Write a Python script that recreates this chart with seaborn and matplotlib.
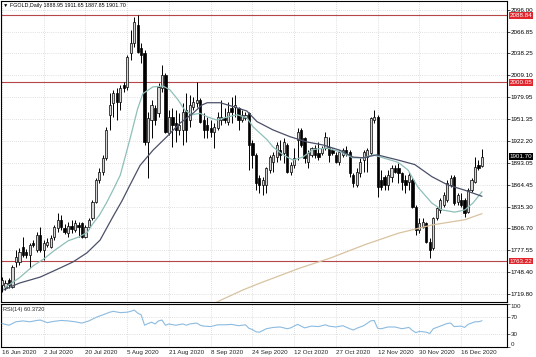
import matplotlib
matplotlib.use("Agg")
import matplotlib.pyplot as plt
import matplotlib.transforms as mtransforms
import numpy as np
import seaborn as sns

# ── Data (daily FGOLD candles) ────────────────────────────────────────────────
opens = [1731.5, 1728.8, 1738.1, 1728.8, 1761.9, 1761.9, 1781.8, 1775.2, 1771.2, 1787.1,
         1777.8, 1797.7, 1777.8, 1784.5, 1781.8, 1795.1, 1807.0, 1817.6, 1807.0, 1800.4,
         1809.6, 1804.3, 1811.0, 1813.6, 1795.1, 1808.3, 1820.2, 1841.4, 1870.6, 1881.2,
         1899.7, 1956.7, 1972.6, 1985.9, 1973.9, 1996.5, 1993.8, 2038.9, 2052.1, 2076.0,
         2045.5, 2038.9, 1920.9, 1950.1, 1966.0, 1959.4, 1992.5, 2009.7, 1932.9, 1954.1,
         1946.1, 1936.8, 1936.8, 1963.3, 1950.1, 1967.3, 1972.6, 1976.6, 1950.1, 1943.5,
         1939.5, 1934.2, 1939.5, 1950.1, 1952.7, 1947.4, 1966.0, 1967.3, 1966.0, 1950.1,
         1952.7, 1959.4, 1919.6, 1903.7, 1873.2, 1864.0, 1864.0, 1883.8, 1894.4, 1901.1,
         1910.3, 1906.4, 1917.0, 1881.2, 1890.5, 1923.6, 1936.8, 1926.2, 1894.4, 1903.7,
         1913.0, 1906.4, 1906.4, 1913.0, 1914.3, 1910.3, 1903.7, 1894.4, 1903.7, 1910.3,
         1907.7, 1877.2, 1864.0, 1879.9, 1897.1, 1901.1, 1906.4, 1950.1, 1954.1, 1870.6,
         1874.6, 1864.0, 1874.6, 1886.5, 1886.5, 1879.9, 1870.6, 1867.9, 1870.6, 1834.8,
         1804.3, 1808.3, 1813.6, 1788.4, 1780.5, 1820.2, 1830.8, 1837.5, 1844.1, 1864.0,
         1874.6, 1841.4, 1844.1, 1844.1, 1828.2, 1857.3, 1867.9, 1890.5, 1888.95]
highs = [1742.1, 1738.1, 1740.7, 1758.0, 1777.8, 1780.5, 1795.1, 1779.2, 1787.1, 1791.1,
         1801.7, 1808.3, 1791.1, 1793.7, 1797.7, 1811.0, 1826.9, 1824.2, 1812.3, 1814.9,
         1817.6, 1817.6, 1814.9, 1814.9, 1811.0, 1820.2, 1844.1, 1873.2, 1886.5, 1903.7,
         1940.8, 1985.9, 1989.8, 1992.5, 1996.5, 2000.4, 2036.2, 2069.3, 2086.6, 2089.2,
         2052.1, 2042.8, 1960.7, 1976.6, 1970.0, 1999.1, 2023.0, 2012.4, 1963.3, 1966.0,
         1963.3, 1959.4, 1972.6, 1985.9, 1983.2, 1980.6, 2000.4, 1979.2, 1959.4, 1954.1,
         1950.1, 1946.1, 1960.7, 1976.6, 1966.0, 1973.9, 1980.6, 1983.2, 1967.3, 1963.3,
         1960.7, 1960.7, 1923.6, 1906.4, 1877.2, 1874.6, 1887.8, 1903.7, 1907.7, 1920.9,
         1923.6, 1926.2, 1919.6, 1894.4, 1913.0, 1939.5, 1939.5, 1927.6, 1910.3, 1914.3,
         1917.0, 1920.9, 1915.7, 1934.2, 1927.6, 1913.0, 1907.7, 1910.3, 1913.0, 1915.7,
         1910.3, 1879.9, 1886.5, 1899.7, 1910.3, 1913.0, 1954.1, 1963.3, 1956.7, 1883.8,
         1877.2, 1883.8, 1890.5, 1890.5, 1893.1, 1881.2, 1877.2, 1881.2, 1873.2, 1837.5,
         1820.2, 1820.2, 1814.9, 1793.7, 1821.6, 1834.8, 1846.7, 1854.7, 1870.6, 1877.2,
         1877.2, 1853.4, 1853.4, 1846.7, 1860.0, 1873.2, 1901.1, 1897.1, 1911.65]
lows = [1722.2, 1724.8, 1727.5, 1727.5, 1755.3, 1758.0, 1768.6, 1767.2, 1754.0, 1781.8,
        1775.2, 1775.2, 1764.6, 1781.8, 1780.5, 1791.1, 1801.7, 1804.3, 1799.0, 1795.1,
        1800.4, 1801.7, 1795.1, 1793.7, 1793.7, 1805.7, 1817.6, 1840.1, 1866.6, 1877.2,
        1897.1, 1936.8, 1954.1, 1950.1, 1963.3, 1987.2, 1989.8, 2029.6, 2046.8, 2038.9,
        2025.6, 1917.0, 1873.2, 1926.2, 1943.5, 1954.1, 1987.2, 1932.9, 1930.2, 1914.3,
        1920.9, 1930.2, 1917.0, 1920.9, 1940.8, 1963.3, 1967.3, 1946.1, 1926.2, 1926.2,
        1927.6, 1913.0, 1936.8, 1943.5, 1946.1, 1943.5, 1946.1, 1954.1, 1936.8, 1947.4,
        1950.1, 1883.8, 1886.5, 1857.3, 1853.4, 1850.7, 1853.4, 1879.9, 1881.2, 1894.4,
        1897.1, 1893.1, 1879.9, 1877.2, 1886.5, 1897.1, 1914.3, 1893.1, 1886.5, 1901.1,
        1899.7, 1897.1, 1903.7, 1910.3, 1894.4, 1903.7, 1893.1, 1890.5, 1901.1, 1902.4,
        1874.6, 1861.3, 1861.3, 1874.6, 1881.2, 1881.2, 1903.7, 1946.1, 1848.1, 1857.3,
        1857.3, 1857.3, 1867.9, 1879.9, 1866.6, 1857.3, 1853.4, 1857.3, 1833.5, 1797.7,
        1800.4, 1807.0, 1787.1, 1767.2, 1777.8, 1817.6, 1826.9, 1834.8, 1841.4, 1861.3,
        1837.5, 1837.5, 1834.8, 1821.6, 1826.9, 1854.7, 1866.6, 1883.8, 1887.85]
closes = [1738.1, 1734.1, 1731.5, 1755.3, 1768.6, 1775.2, 1771.2, 1771.2, 1784.5, 1784.5,
          1797.7, 1777.8, 1787.1, 1788.4, 1793.7, 1808.3, 1817.6, 1808.3, 1801.7, 1809.6,
          1805.7, 1813.6, 1808.3, 1795.1, 1808.3, 1817.6, 1841.4, 1870.6, 1881.2, 1899.7,
          1936.8, 1970.0, 1985.9, 1973.9, 1992.5, 1992.5, 2033.6, 2052.1, 2079.9, 2040.2,
          2036.2, 1920.9, 1952.7, 1970.0, 1950.1, 1993.8, 2009.7, 1934.2, 1954.1, 1943.5,
          1936.8, 1943.5, 1960.7, 1936.8, 1970.0, 1973.9, 1976.6, 1947.4, 1936.8, 1936.8,
          1934.2, 1940.8, 1954.1, 1954.1, 1950.1, 1960.7, 1960.7, 1970.0, 1950.1, 1956.7,
          1956.7, 1917.0, 1903.7, 1866.6, 1864.0, 1870.6, 1886.5, 1901.1, 1903.7, 1917.0,
          1903.7, 1920.9, 1881.2, 1890.5, 1899.7, 1934.2, 1917.0, 1899.7, 1906.4, 1913.0,
          1903.7, 1901.1, 1913.0, 1927.6, 1903.7, 1906.4, 1894.4, 1907.7, 1910.3, 1906.4,
          1879.9, 1866.6, 1881.2, 1894.4, 1907.7, 1910.3, 1952.7, 1954.1, 1861.3, 1861.3,
          1864.0, 1877.2, 1886.5, 1881.2, 1879.9, 1867.9, 1864.0, 1877.2, 1834.8, 1804.3,
          1813.6, 1814.9, 1788.4, 1777.8, 1820.2, 1833.5, 1844.1, 1850.7, 1866.6, 1873.2,
          1840.1, 1850.7, 1837.5, 1826.9, 1857.3, 1870.6, 1887.8, 1886.5, 1901.70]

# moving averages, read at sample bars
fast_ma_x = [0.5, 5, 9, 12, 15, 19, 22, 24.5, 26, 28, 30, 32, 34, 36.8, 39, 40.5, 43.4, 46.3,
             48.3, 50.6, 52.6, 54.6, 56.9, 59.2, 61.8, 64.7, 67.6, 70.4, 72.2, 76.2, 78, 80.8,
             83.7, 86.5, 89.4, 93.4, 97.2, 100.9, 103.8, 106.7, 108.1, 113.9, 116.7, 119.6,
             123.6, 126.5, 130.2, 133.1, 135.4, 138]
fast_ma = [1727, 1741, 1757, 1766, 1777, 1790, 1795, 1801, 1812, 1824, 1840, 1858, 1877, 1925,
           1965, 1985, 1994, 1995, 1990, 1977, 1963, 1957, 1959, 1954, 1950, 1954, 1957, 1953,
           1941, 1924, 1914, 1904, 1897, 1901, 1911, 1913, 1908, 1900, 1900, 1904, 1902, 1894,
           1884, 1861, 1840, 1831, 1828, 1831, 1840, 1855]
slow_ma_x = [0.5, 5, 11, 16.7, 20.4, 24.4, 28.2, 31.9, 34.5, 36.8, 39.7, 43.4, 47.4, 51.2, 54.9,
             57.5, 59, 62.7, 66.4, 70.4, 73.3, 77.9, 82.8, 87.7, 92.3, 97.2, 100.9, 103.8,
             107.8, 113.9, 118.7, 123.6, 128.2, 133.1, 138]
slow_ma = [1725, 1734, 1742, 1754, 1762, 1774, 1791, 1822, 1843, 1864, 1890, 1910, 1928, 1946,
           1959, 1970, 1973, 1973, 1968, 1962, 1948, 1937, 1928, 1921, 1917, 1910, 1901, 1900,
           1904, 1897, 1891, 1875, 1864, 1857, 1849]
long_ma_x = [57, 61.8, 69.3, 74.2, 85.7, 94.3, 104.4, 113.9, 123.6, 133.1, 138]
long_ma = [1698, 1709, 1725, 1734, 1754, 1767, 1785, 1800, 1811, 1818, 1826]

rsi_x = [0, 2, 4, 6, 8, 10, 11, 13, 15, 17, 19, 21, 23, 25, 27, 29, 31, 32, 34, 36, 37, 38, 39,
         40, 41, 42, 43, 44, 45, 46, 47, 48, 50, 52, 53, 54, 56, 57, 58, 60, 62, 64, 66, 68,
         70, 71, 72, 73, 74, 76, 78, 80, 82, 83, 85, 86, 87, 89, 91, 93, 94, 96, 98, 100, 101,
         102, 104, 106, 107, 108, 109, 111, 113, 115, 117, 118, 119, 120, 122, 123, 124, 126,
         128, 129, 130, 132, 133, 134, 136, 137, 138]
rsi_vals = [54, 50, 58, 60, 58, 61, 62, 56, 59, 61, 60, 58, 55, 60, 68, 74, 80, 82, 79, 80, 82,
            85, 78, 74, 50, 54, 57, 53, 60, 62, 50, 53, 50, 53, 50, 53, 55, 50, 48, 47, 51, 51,
            52, 49, 51, 43, 40, 35, 34, 42, 45, 46, 42, 44, 52, 48, 44, 48, 47, 51, 48, 46, 49,
            42, 39, 43, 49, 60, 61, 43, 42, 46, 46, 42, 45, 38, 33, 36, 34, 31, 42, 48, 54, 55,
            47, 48, 45, 52, 58, 58, 60.37]

date_labels = ["16 Jun 2020", "2 Jul 2020", "20 Jul 2020", "5 Aug 2020", "21 Aug 2020",
               "8 Sep 2020", "24 Sep 2020", "12 Oct 2020", "27 Oct 2020", "12 Nov 2020",
               "30 Nov 2020", "16 Dec 2020"]
price_ticks = [2096.00, 2066.85, 2038.25, 2009.10, 1979.95, 1951.35, 1922.20, 1893.05,
               1864.45, 1835.30, 1806.70, 1777.55, 1748.40, 1719.80]
level_lines = [2088.84, 2000.05, 1763.22]
last_price = 1901.70

# ── Figure ───────────────────────────────────────────────────────────────────
sns.set_style("white")
plt.rcParams["font.family"] = ["Liberation Sans", "DejaVu Sans"]
FS = 4.5

W, H = 536, 357
fig = plt.figure(figsize=(W / 100, H / 100), dpi=100)
ax = fig.add_axes([1 / W, 55 / H, 506 / W, 301 / H])
ax_rsi = fig.add_axes([1 / W, 10 / H, 506 / W, 43.5 / H], sharex=ax)

bar_px = 3.478
xmin, xmax = -1 / bar_px, 505 / bar_px
grid_kw = dict(color="#c4c4c4", lw=0.5, ls=(0, (1, 2)), zorder=0)
tick_idx = np.arange(0, 12 * len(date_labels), 12)

# candles
idx = np.arange(len(closes))
o, h, l, c = map(np.asarray, (opens, highs, lows, closes))
up = c >= o
ax.vlines(idx, l, h, color="black", lw=0.7, zorder=2)
ax.bar(idx[up], np.maximum((c - o)[up], 0.6), bottom=o[up], width=0.64,
       color="#d6d6d6", edgecolor="black", lw=0.5, zorder=3)
ax.bar(idx[~up], np.maximum((o - c)[~up], 0.6), bottom=c[~up], width=0.64,
       color="black", edgecolor="black", lw=0.5, zorder=3)

sns.lineplot(x=long_ma_x, y=long_ma, ax=ax, color="#d8c3a0", lw=0.9, zorder=4)
sns.lineplot(x=fast_ma_x, y=fast_ma, ax=ax, color="#8fbfba", lw=0.9, zorder=4)
sns.lineplot(x=slow_ma_x, y=slow_ma, ax=ax, color="#4b5068", lw=0.9, zorder=4)

for lv in level_lines:
    ax.axhline(lv, color="#b5474b", lw=0.8, zorder=1)

ax.set_ylim(2109.1 - 1.325 * 302, 2109.1 - 1.325 * 1)
ax.set_xlim(xmin, xmax)
for t in price_ticks:
    ax.axhline(t, **grid_kw)
for t in tick_idx:
    ax.axvline(t, **grid_kw)
    ax_rsi.axvline(t, **grid_kw)

ax.yaxis.tick_right()
ax.set_yticks(price_ticks)
ax.set_yticklabels([f"{t:.2f}" for t in price_ticks])
ax.tick_params(axis="y", labelsize=FS, length=1.8, width=0.5, pad=1, colors="black")
ax.tick_params(axis="x", bottom=False, labelbottom=False)

ytrans = mtransforms.blended_transform_factory(ax.transAxes, ax.transData)
for lv in level_lines:
    ax.text(1.0055, lv, f"{lv:.2f}", transform=ytrans, fontsize=FS, color="white",
            va="center", ha="left", zorder=6, clip_on=False,
            bbox=dict(boxstyle="square,pad=0.12", fc="#e0262c", ec="none"))
ax.text(1.0055, last_price, f"{last_price:.2f}", transform=ytrans, fontsize=FS,
        color="white", va="center", ha="left", zorder=6, clip_on=False,
        bbox=dict(boxstyle="square,pad=0.12", fc="black", ec="none"))

ax.text(0.004, 0.993, "\u25BC FGOLD,Daily 1888.95 1911.65 1887.85 1901.70",
        transform=ax.transAxes, fontsize=3.9, va="top", ha="left", color="black",
        family=["Liberation Sans", "DejaVu Sans"])

# RSI panel
sns.lineplot(x=rsi_x, y=rsi_vals, ax=ax_rsi, color="#8cbbe0", lw=0.8, zorder=3)
for lv in (70, 30):
    ax_rsi.axhline(lv, **grid_kw)
ax_rsi.set_ylim(0, 100)
ax_rsi.yaxis.tick_right()
ax_rsi.set_yticks([100, 70, 30, 0])
ax_rsi.set_yticklabels(["100", "70", "30", "0"])
ax_rsi.tick_params(axis="y", labelsize=FS, length=1.8, width=0.5, pad=1)
rl = ax_rsi.get_yticklabels()
rl[0].set_va("top")
rl[-1].set_va("bottom")
ax_rsi.text(0.004, 0.93, "RSI(14) 60.3720", transform=ax_rsi.transAxes,
            fontsize=4.1, va="top", ha="left")

ax_rsi.set_xticks(tick_idx)
ax_rsi.set_xticklabels(date_labels, ha="left")
ax_rsi.tick_params(axis="x", labelsize=FS, length=1.5, width=0.5, pad=0.8)
ax_rsi.set_xlim(xmin, xmax)

for a in (ax, ax_rsi):
    a.set_xlabel("")
    a.set_ylabel("")
    for s in a.spines.values():
        s.set_color("black")
        s.set_linewidth(0.8)

fig.savefig("out.png", dpi=100)
